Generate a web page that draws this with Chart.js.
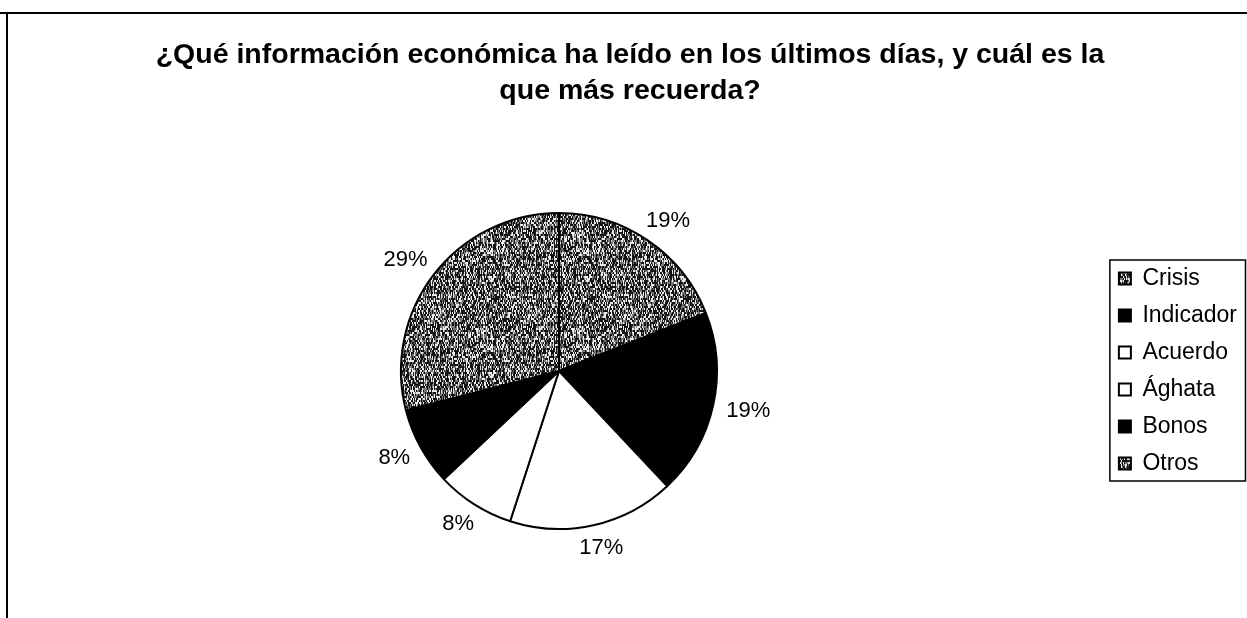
<!DOCTYPE html>
<html lang="es">
<head>
<meta charset="utf-8">
<title>Información económica</title>
<script src="https://cdn.jsdelivr.net/npm/chart.js@4.4.0/dist/chart.umd.min.js"></script>
<style>
    html, body { margin: 0; padding: 0; background: #fff; }
    #wrap { position: relative; width: 1247px; height: 618px; }
</style>
</head>
<body>
<div id="wrap"><canvas id="pie" width="1247" height="618"></canvas></div>
<script>
// Datos
const categorias = ['Crisis', 'Indicador', 'Acuerdo', 'Ághata', 'Bonos', 'Otros'];
const porcentajes = [19, 19, 17, 8, 8, 29];
const titulo = [
    '¿Qué información económica ha leído en los últimos días, y cuál es la',
    'que más recuerda?'
];

const FAMILIA = '"Liberation Sans", Arial, sans-serif';

/**
 * Trama gris punteada, imitando el relleno escaneado del original
 * (trazos verticales cortos de puntos claros y oscuros)
 */
function crearTramaGris(ctx) {
    const size = 96;
    const c = document.createElement('canvas');
    c.width = size;
    c.height = size;
    const g = c.getContext('2d');
    const img = g.createImageData(size, size);
    let seed = 98765;
    const celdas = [];
    for (let i = 0; i < size * (size / 2); i++) {
        seed = (seed * 1103515245 + 12345) & 0x7fffffff;
        celdas.push((seed >> 16) & 0xff);
    }
    for (let y = 0; y < size; y++) {
        for (let x = 0; x < size; x++) {
            const v = celdas[Math.floor(y / 2) * size + x];
            const nivel = v < 120 ? 20 : (v < 185 ? 120 : 235);
            const k = (y * size + x) * 4;
            img.data[k] = nivel;
            img.data[k + 1] = nivel;
            img.data[k + 2] = nivel;
            img.data[k + 3] = 255;
        }
    }
    g.putImageData(img, 0, 0);
    return ctx.createPattern(c, 'repeat');
}

// Fondo y marco (líneas superior e izquierda)
const marcoPlugin = {
    id: 'marco',
    beforeDraw(chart) {
        const c = chart.ctx;
        c.save();
        c.fillStyle = '#fff';
        c.fillRect(0, 0, chart.width, chart.height);
        c.strokeStyle = '#000';
        c.lineWidth = 2;
        c.beginPath();
        c.moveTo(0, 13);
        c.lineTo(chart.width, 13);
        c.moveTo(7, 13);
        c.lineTo(7, chart.height);
        c.stroke();
        c.restore();
    }
};

// Caja alrededor de la leyenda
const cajaLeyendaPlugin = {
    id: 'cajaLeyenda',
    afterDraw(chart) {
        const hb = chart.legend.legendHitBoxes;
        if (!hb || !hb.length) return;
        const first = hb[0];
        const last = hb[hb.length - 1];
        const left = Math.min(...hb.map(h => h.left)) - 9;
        const top = first.top - 7;
        const bottom = last.top + last.height + 6;
        const right = chart.width - 1.5;
        const c = chart.ctx;
        c.save();
        c.strokeStyle = '#000';
        c.lineWidth = 1.5;
        c.strokeRect(left, top, right - left, bottom - top);
        c.restore();
    }
};

// Porcentajes fuera de cada sector
const etiquetasPlugin = {
    id: 'etiquetas',
    afterDatasetsDraw(chart) {
        const meta = chart.getDatasetMeta(0);
        const c = chart.ctx;
        c.save();
        c.font = '22px ' + FAMILIA;
        c.fillStyle = '#000';
        c.textAlign = 'center';
        c.textBaseline = 'middle';
        meta.data.forEach((arc, i) => {
            const p = arc.getProps(['x', 'y', 'startAngle', 'endAngle', 'outerRadius'], true);
            const mid = (p.startAngle + p.endAngle) / 2;
            const ux = Math.cos(mid);
            const uy = Math.sin(mid);
            const txt = porcentajes[i] + '%';
            const w = c.measureText(txt).width;
            const h = 18;
            const d = p.outerRadius + 14;
            c.fillText(txt, p.x + ux * d + ux * w / 2, p.y + uy * d + uy * h / 2);
        });
        c.restore();
    }
};

const ctx = document.getElementById('pie').getContext('2d');
const gris = crearTramaGris(ctx);
const colores = [gris, '#000000', '#ffffff', '#ffffff', '#000000', gris];

new Chart(ctx, {
    type: 'pie',
    data: {
        labels: categorias,
        datasets: [{
            data: porcentajes,
            backgroundColor: colores,
            borderColor: '#000000',
            borderWidth: 2,
            radius: 158
        }]
    },
    options: {
        responsive: false,
        animation: false,
        events: [],
        layout: {
            padding: { left: 13, right: 0, top: 0, bottom: 16 }
        },
        plugins: {
            title: {
                display: true,
                text: titulo,
                color: '#000',
                font: { family: FAMILIA, size: 28.5, weight: 'bold', lineHeight: 36 / 28.5 },
                padding: { top: 37, bottom: 31 }
            },
            legend: {
                display: true,
                position: 'right',
                fullSize: false,
                labels: {
                    color: '#000',
                    font: { family: FAMILIA, size: 23 },
                    boxWidth: 12,
                    boxHeight: 12,
                    padding: 14
                }
            },
            tooltip: { enabled: false }
        }
    },
    plugins: [marcoPlugin, cajaLeyendaPlugin, etiquetasPlugin]
});
</script>
</body>
</html>
